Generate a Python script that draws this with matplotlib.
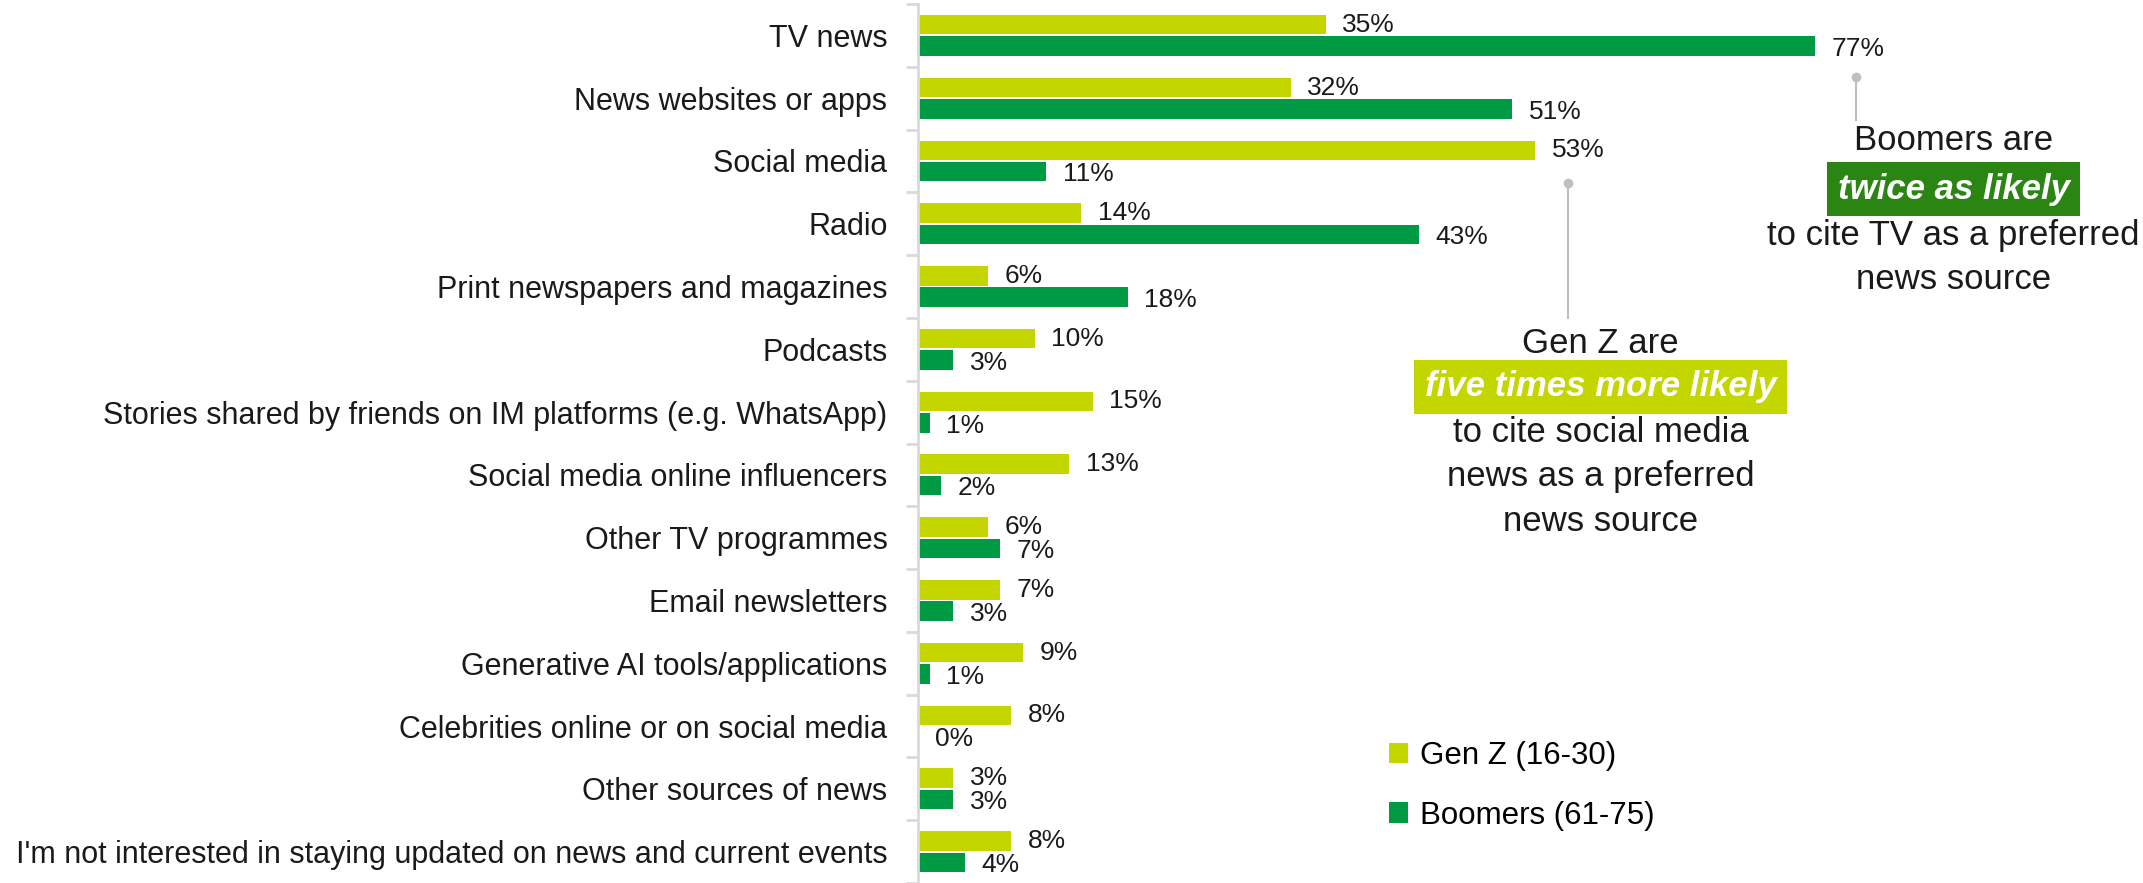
import matplotlib.pyplot as plt
from matplotlib.patches import Patch
import numpy as np

# Preferred news sources by generation (% of respondents)
categories = [
    "TV news",
    "News websites or apps",
    "Social media",
    "Radio",
    "Print newspapers and magazines",
    "Podcasts",
    "Stories shared by friends on IM platforms (e.g. WhatsApp)",
    "Social media online influencers",
    "Other TV programmes",
    "Email newsletters",
    "Generative AI tools/applications",
    "Celebrities online or on social media",
    "Other sources of news",
    "I'm not interested in staying updated on news and current events",
]
gen_z = [35, 32, 53, 14, 6, 10, 15, 13, 6, 7, 9, 8, 3, 8]
boomers = [77, 51, 11, 43, 18, 3, 1, 2, 7, 3, 1, 0, 3, 4]
series_names = ["Gen Z (16-30)", "Boomers (61-75)"]

YELLOW = "#C4D600"
GREEN = "#009A44"
BOX_GREEN = "#2A8512"
AXIS_GREY = "#D9D9D9"
TEXT = "#1a1a1a"

plt.rcParams["font.family"] = ["Liberation Sans", "DejaVu Sans"]

W, H = 2143, 883
fig = plt.figure(figsize=(W / 100, H / 100), dpi=100)
ax_left = 918 / W
ax_top = 4 / H
ax = fig.add_axes([ax_left, 0, 1 - ax_left, 1 - ax_top])

y = np.arange(len(categories))
bar_h = 0.31
off = 0.17
ax.barh(y - off, gen_z, height=bar_h, color=YELLOW, label=series_names[0])
ax.barh(y + off, boomers, height=bar_h, color=GREEN, label=series_names[1])

ax.set_xlim(0, (W - 918) / 11.65)
ax.set_ylim(len(categories) - 0.5, -0.5)

for yi, v in zip(y, gen_z):
    ax.annotate(f"{v}%", (v, yi - off), xytext=(12, 0), textcoords="offset points",
                va="center", ha="left", fontsize=19, color=TEXT)
for yi, v in zip(y, boomers):
    ax.annotate(f"{v}%", (v, yi + off), xytext=(12, -2), textcoords="offset points",
                va="center", ha="left", fontsize=19, color=TEXT)

# axis styling: only a light left spine with outward ticks between groups
for side in ("top", "right", "bottom"):
    ax.spines[side].set_visible(False)
ax.spines["left"].set_color(AXIS_GREY)
ax.spines["left"].set_linewidth(2)
ax.set_xticks([])
ax.set_yticks(y)
ax.set_yticklabels(categories, fontsize=22, color=TEXT)
ax.tick_params(axis="y", which="major", length=0, pad=22)
ax.set_yticks(np.arange(-0.5, len(categories), 1.0), minor=True)
ax.tick_params(axis="y", which="minor", length=9, width=2, color=AXIS_GREY)

ann_kw = dict(ha="center", va="center", fontsize=25, color=TEXT)
box_kw = dict(ha="center", va="center", fontsize=25, color="white",
              fontweight="bold", fontstyle="italic")

# callout: Boomers and TV
ax.plot([80.5, 80.5], [0.66, 1.35], color="#BFBFBF", lw=1.5)
ax.plot([80.5], [0.66], "o", color="#BFBFBF", ms=6)
bx = 88.9
ax.text(bx, 1.68, "Boomers are", **ann_kw)
ax.text(bx, 2.45, "twice as likely", **box_kw,
        bbox=dict(boxstyle="square,pad=0.3", fc=BOX_GREEN, ec="none"))
ax.text(bx, 3.18, "to cite TV as a preferred", **ann_kw)
ax.text(bx, 3.88, "news source", **ann_kw)

# callout: Gen Z and social media
ax.plot([55.8, 55.8], [2.35, 4.5], color="#BFBFBF", lw=1.5)
ax.plot([55.8], [2.35], "o", color="#BFBFBF", ms=6)
gx = 58.6
ax.text(gx, 4.9, "Gen Z are", **ann_kw)
ax.text(gx, 5.6, "five times more likely", **box_kw,
        bbox=dict(boxstyle="square,pad=0.3", fc=YELLOW, ec="none"))
ax.text(gx, 6.33, "to cite social media", **ann_kw)
ax.text(gx, 7.03, "news as a preferred", **ann_kw)
ax.text(gx, 7.75, "news source", **ann_kw)

handles = [Patch(facecolor=YELLOW), Patch(facecolor=GREEN)]
fig.legend(handles, series_names, loc="upper left",
           bbox_to_anchor=(1367 / W, 1 - 719 / H), frameon=False,
           fontsize=22.5, handlelength=0.62, handleheight=0.62,
           handletextpad=0.36, labelspacing=0.95, borderpad=0.2)

fig.savefig("out.png", dpi=100)
